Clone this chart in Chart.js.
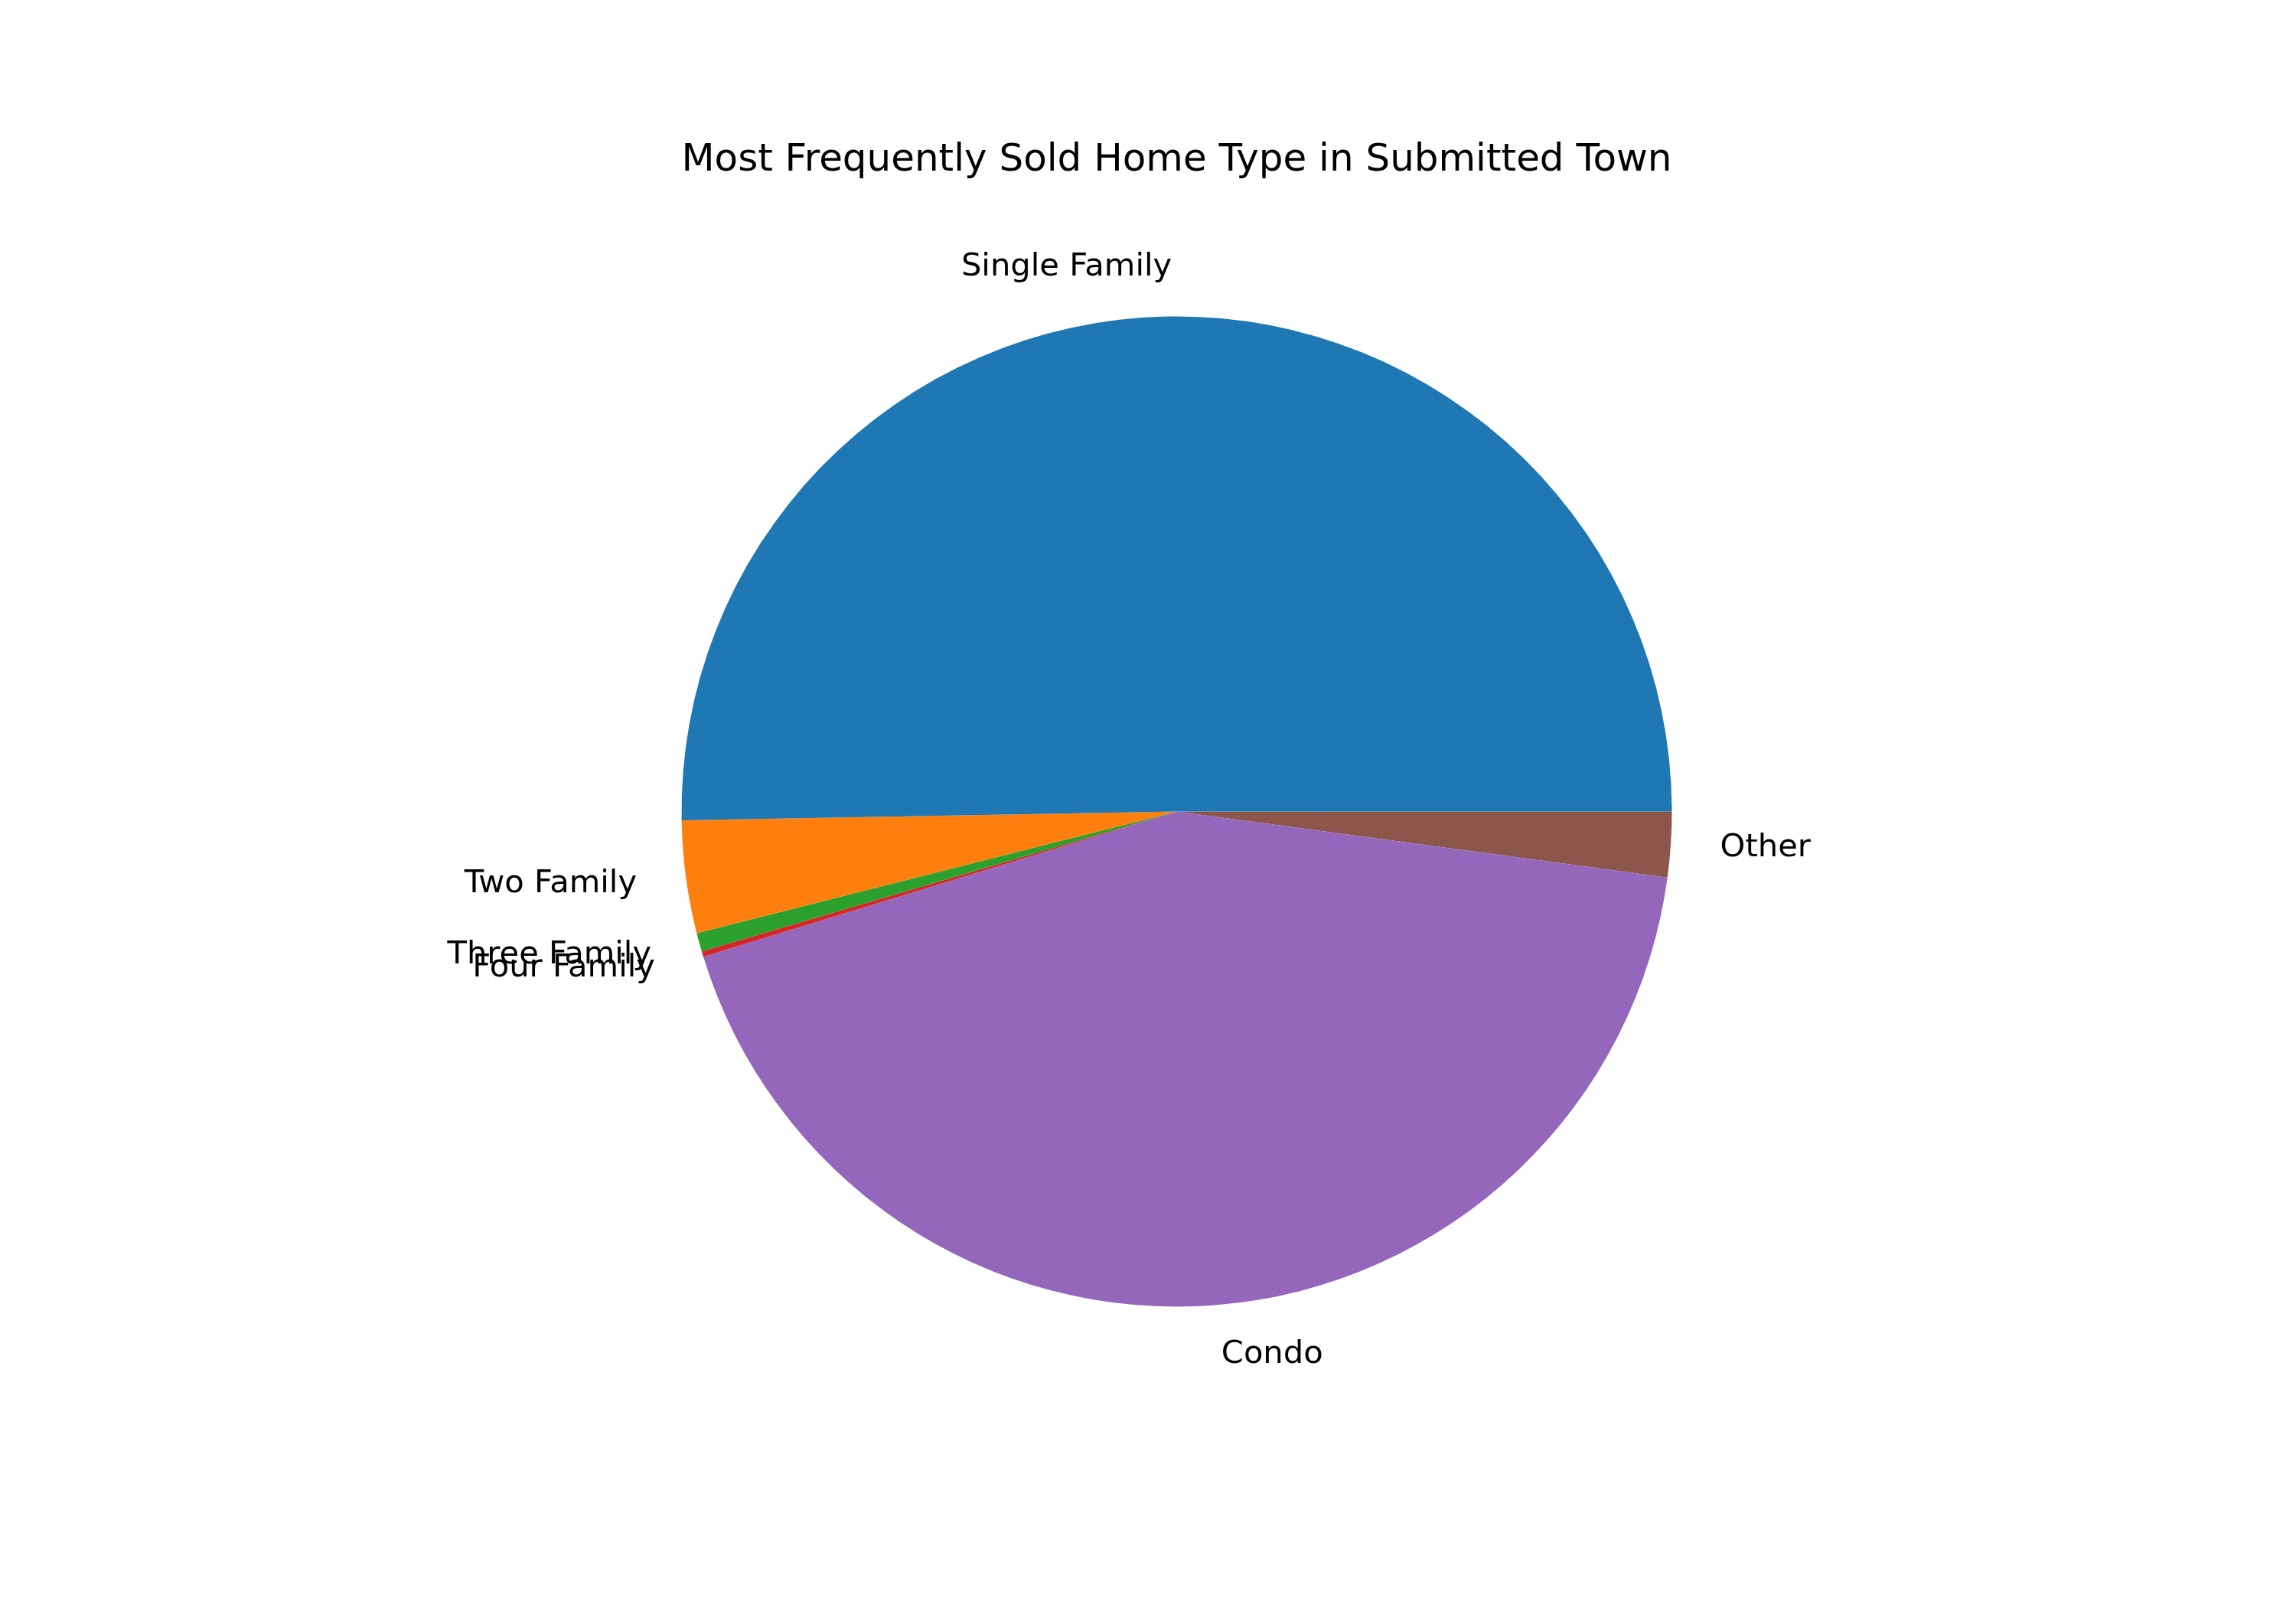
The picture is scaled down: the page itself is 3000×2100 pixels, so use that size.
<!DOCTYPE html>
<html>
<head>
<meta charset="utf-8">
<script src="https://cdn.jsdelivr.net/npm/chart.js@4.4.1/dist/chart.umd.min.js"></script>
<style>
  html, body { margin: 0; padding: 0; background: #ffffff; }
  #wrap { width: 3000px; height: 2100px; }
</style>
</head>
<body>
<div id="wrap"><canvas id="c" width="3000" height="2100"></canvas></div>
<script>
// Data, in matplotlib's order (counter-clockwise from 3 o'clock)
const categories = ["Single Family", "Two Family", "Three Family", "Four Family", "Condo", "Other"];
const shares = [50.28, 3.67, 0.61, 0.18, 43.13, 2.13];
const sliceColors = ["#1f77b4", "#ff7f0e", "#2ca02c", "#d62728", "#9467bd", "#8c564b"];
const chartTitle = "Most Frequently Sold Home Type in Submitted Town";

// Chart.js draws clockwise, so reverse the order to mimic matplotlib's counter-clockwise pie
const labelsRev = categories.slice().reverse();
const valuesRev = shares.slice().reverse();
const colorsRev = sliceColors.slice().reverse();

const FONT = '"DejaVu Sans", "Liberation Sans", sans-serif';
const LABEL_PX = 41.67;

const pieLabels = {
  id: 'pieLabels',
  afterDatasetsDraw(chart) {
    const ctx = chart.ctx;
    const meta = chart.getDatasetMeta(0);
    // draw in matplotlib's original order (reverse of chart order)
    const idx = meta.data.map((_, i) => i).reverse();
    ctx.save();
    ctx.font = LABEL_PX + 'px ' + FONT;
    ctx.fillStyle = '#000000';
    ctx.textBaseline = 'middle';
    for (const i of idx) {
      const arc = meta.data[i];
      const p = arc.getProps(['x', 'y', 'startAngle', 'endAngle', 'outerRadius'], true);
      const mid = (p.startAngle + p.endAngle) / 2;
      const r = p.outerRadius * 1.1;
      const dx = Math.cos(mid) * r;
      const dy = Math.sin(mid) * r;
      ctx.textAlign = dx > 0 ? 'left' : 'right';
      ctx.fillText(chart.data.labels[i], p.x + dx, p.y + dy);
    }
    ctx.restore();
  }
};

new Chart(document.getElementById('c'), {
  type: 'pie',
  data: {
    labels: labelsRev,
    datasets: [{
      data: valuesRev,
      backgroundColor: colorsRev,
      borderWidth: 0,
      hoverOffset: 0
    }]
  },
  options: {
    responsive: false,
    maintainAspectRatio: false,
    devicePixelRatio: 1,
    animation: false,
    rotation: 90,
    layout: {
      padding: { left: 890.5, right: 815.5, top: 0, bottom: 392.5 }
    },
    plugins: {
      legend: { display: false },
      tooltip: { enabled: false },
      title: {
        display: true,
        text: chartTitle,
        color: '#000000',
        font: { family: FONT, size: 50, weight: 'normal', lineHeight: 1.2 },
        padding: { top: 180, bottom: 173.5 }
      }
    }
  },
  plugins: [pieLabels]
});
</script>
</body>
</html>
